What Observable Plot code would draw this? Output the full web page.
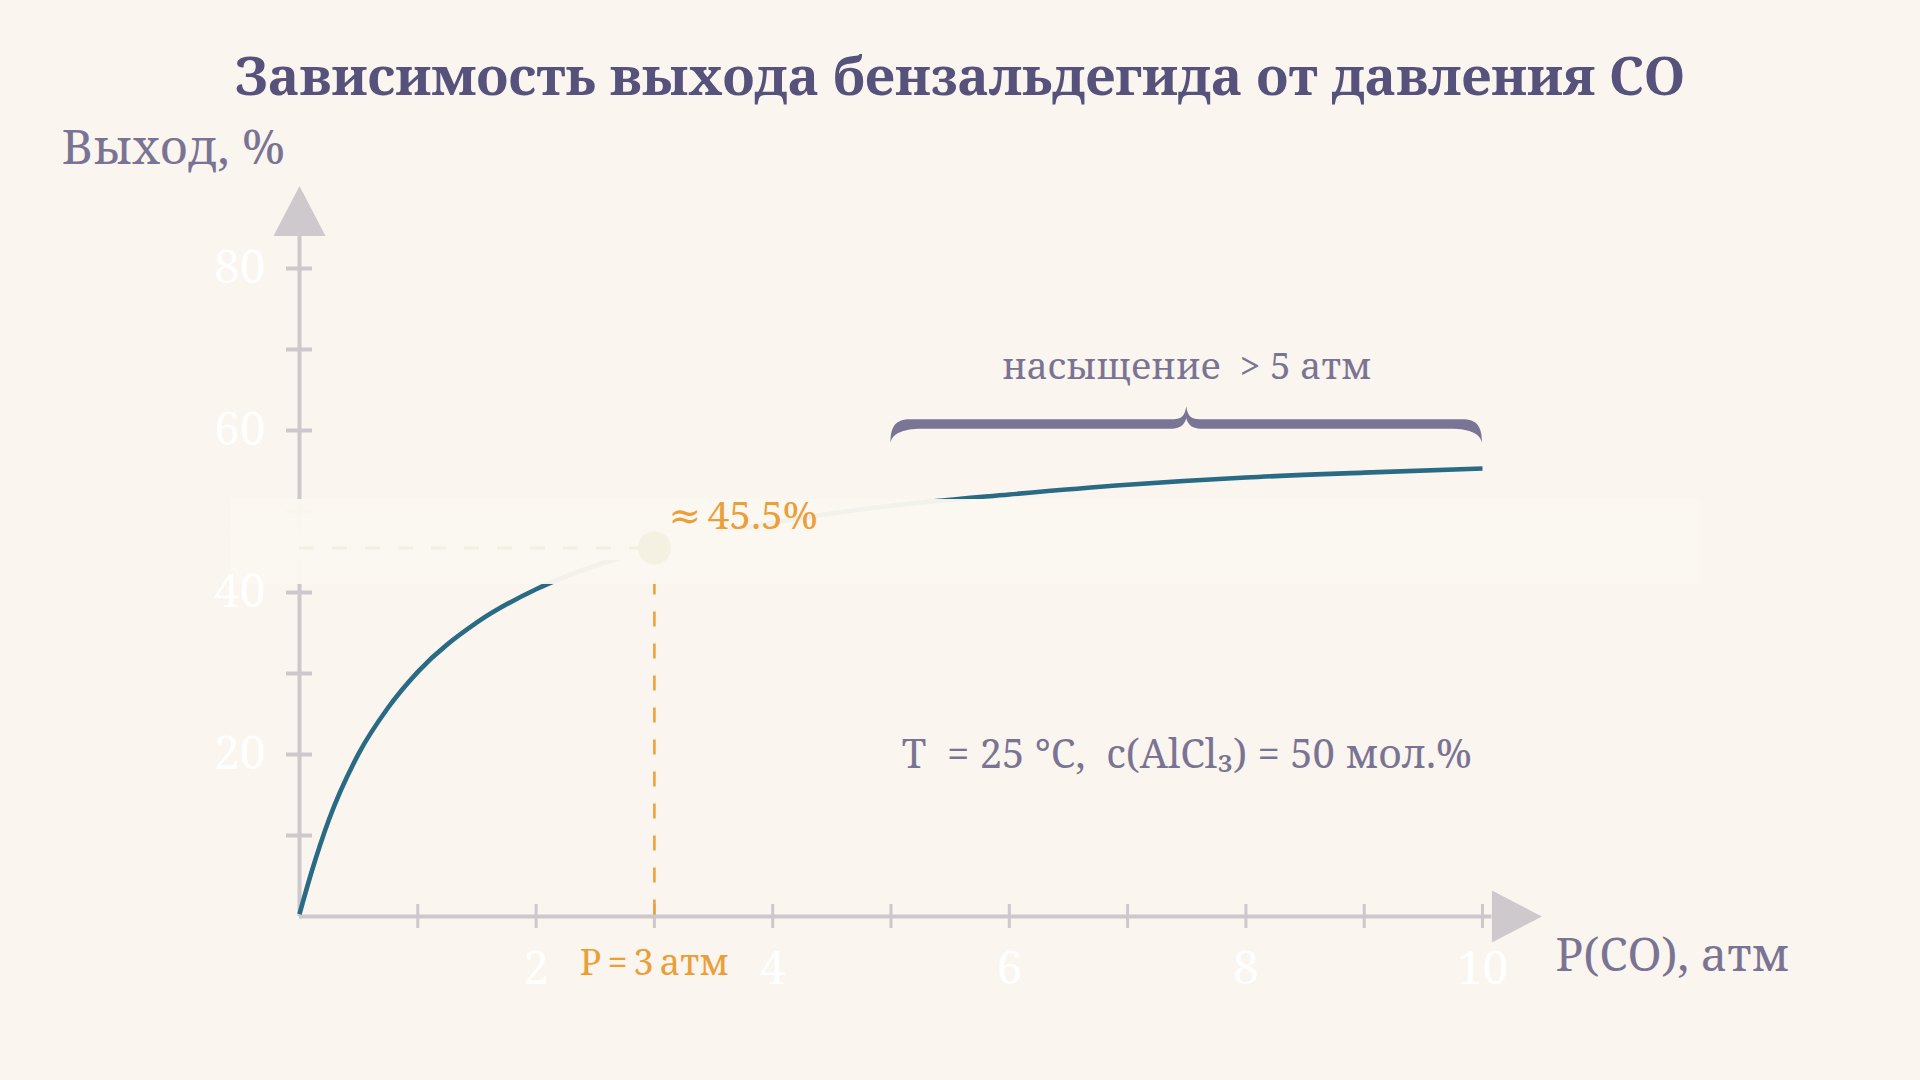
<!DOCTYPE html>
<html>
<head>
<meta charset="utf-8">
<script src="https://cdn.jsdelivr.net/npm/d3@7"></script>
<script src="https://cdn.jsdelivr.net/npm/@observablehq/plot@0.6"></script>
<style>
  html, body { margin: 0; padding: 0; background: #faf5ee; }
  body { width: 1920px; height: 1080px; overflow: hidden; font-family: "Noto Serif", "DejaVu Serif", serif; }
  #title { position: relative; height: 120px; }
  #title h1 { position: absolute; left: 0; top: 50px; width: 1920px; margin: 0; text-align: center;
    font-size: 53px; line-height: 50px; font-weight: 700; color: #56527b; }
  #chart svg { display: block; }
</style>
</head>
<body>
<div id="title"><h1>Зависимость выхода бензальдегида от давления СО</h1></div>
<div id="chart"></div>
<script>
// ---- data ----
const pressure = [0, 0.1, 0.25, 0.5, 0.75, 1, 1.5, 2, 2.5, 3, 4, 5, 6, 7, 8, 9, 10];
const yieldPct = [0.3, 5.4, 12.0, 20.1, 25.8, 30.2, 36.3, 40.4, 43.3, 45.5, 48.6, 50.7, 52.1, 53.3, 54.2, 54.8, 55.3];
const xTicks = [1, 2, 3, 4, 5, 6, 7, 8, 9, 10];
const xTickLabels = [2, 4, 6, 8, 10];
const yTicks = [10, 20, 30, 40, 50, 60, 70, 80];
const yTickLabels = [20, 40, 60, 80];
const marker = {p: 3, y: 45.5};
const markerLabel = "≈\u200945.5%";
const markerAxisLabel = "P\u2009=\u20093\u2009атм";
const saturationRange = [5, 10];
const saturationLevel = 60.74;
const saturationLabel = "насыщение\u00a0 > 5 атм";
const conditionsLabel = "T\u00a0\u00a0= 25 °C,\u00a0\u00a0c(AlCl₃) = 50 мол.%";
const conditionsAt = {p: 7.5, y: 20};
const xAxisTitle = "P(CO), атм";
const yAxisTitle = "Выход, %";
const xAxisEnd = 10.08, yAxisEnd = 84;
const bandUpper = {x1: -0.58, x2: 11.84, y1: 43.95, y2: 51.48};
const bandLower = {x1: -0.58, x2: 11.84, y1: 40.99, y2: 47.65};

// ---- styles ----
const axisGray = "#ccc8cb";
const arrowGray = "#cdc9cd";
const lineColor = "#296a84";
const orange = "#eb9f38";
const muted = "#7a7494";
const bandFill = "#fbf7f0";
const font = '"Noto Serif", "DejaVu Serif", serif';

const curve = pressure.map((p, i) => ({p, y: yieldPct[i]}));

// arrow head: base on the anchor point, tip pointing up
const arrowHead = {
  draw(context) {
    context.moveTo(0, -50);
    context.lineTo(26, 0);
    context.lineTo(-26, 0);
    context.closePath();
  }
};

function braceMark(index, scales) {
  const X0 = scales.x(saturationRange[0]);
  const X1 = scales.x(saturationRange[1]);
  const XM = scales.x((saturationRange[0] + saturationRange[1]) / 2);
  const Y = scales.y(saturationLevel);
  const yT = Y - 4.8, yB = Y + 4.8, yEnd = Y + 19, yTip = Y - 17.5;
  const d = [
    `M${X0},${yEnd}`,
    `C${X0},${yT + 7} ${X0 + 5},${yT} ${X0 + 20},${yT}`,
    `L${XM - 13},${yT}`,
    `C${XM - 5},${yT} ${XM - 1.5},${yT - 3} ${XM},${yTip}`,
    `C${XM + 1.5},${yT - 3} ${XM + 5},${yT} ${XM + 13},${yT}`,
    `L${X1 - 20},${yT}`,
    `C${X1 - 5},${yT} ${X1},${yT + 7} ${X1},${yEnd}`,
    `C${X1 - 1.5},${yB + 6} ${X1 - 10},${yB} ${X1 - 32},${yB}`,
    `L${XM + 17},${yB}`,
    `C${XM + 7},${yB} ${XM + 2},${yB - 3} ${XM},${yT - 1}`,
    `C${XM - 2},${yB - 3} ${XM - 7},${yB} ${XM - 17},${yB}`,
    `L${X0 + 32},${yB}`,
    `C${X0 + 10},${yB} ${X0 + 1.5},${yB + 6} ${X0},${yEnd}`,
    "Z"
  ].join(" ");
  const path = document.createElementNS("http://www.w3.org/2000/svg", "path");
  path.setAttribute("d", d);
  path.setAttribute("fill", "#7b7595");
  return path;
}

const plot = Plot.plot({
  width: 1920,
  height: 960,
  marginLeft: 299,
  marginRight: 438,
  marginTop: 148,
  marginBottom: 164,
  x: {domain: [0, 10], axis: null},
  y: {domain: [0, 80], axis: null},
  style: {background: "transparent", fontFamily: font, overflow: "visible"},
  marks: [
    // axes
    Plot.ruleY([0], {x1: 0, x2: xAxisEnd, stroke: axisGray, strokeWidth: 4}),
    Plot.ruleX([0], {y1: 0, y2: yAxisEnd, stroke: axisGray, strokeWidth: 4}),
    Plot.ruleX(xTicks, {x: d => d, y1: 0, y2: 0, insetTop: -12, insetBottom: -12, stroke: axisGray, strokeWidth: 3}),
    Plot.ruleY(yTicks, {y: d => d, x1: 0, x2: 0, insetLeft: -13, insetRight: -13, stroke: axisGray, strokeWidth: 4}),
    Plot.dot([{p: 0, y: yAxisEnd}], {x: "p", y: "y", symbol: arrowHead, fill: arrowGray}),
    Plot.dot([{p: xAxisEnd, y: 0}], {x: "p", y: "y", symbol: arrowHead, rotate: 90, fill: arrowGray}),
    // curve
    Plot.line(curve, {x: "p", y: "y", stroke: lineColor, strokeWidth: 4.6, curve: "monotone-x", strokeLinecap: "butt"}),
    // vertical marker line
    Plot.ruleX([marker], {x: "p", y1: "y", y2: 0, stroke: orange, strokeWidth: 2.5, strokeDasharray: "15,17"}),
    // soft highlight band (two blurred layers: gentle top edge, crisper bottom edge)
    Plot.rect([bandUpper], {x1: "x1", x2: "x2", y1: "y1", y2: "y2", fill: bandFill, fillOpacity: 0.96, ariaLabel: "band-upper"}),
    Plot.rect([bandLower], {x1: "x1", x2: "x2", y1: "y1", y2: "y2", fill: bandFill, fillOpacity: 0.96, ariaLabel: "band-lower"}),
    // pale guide and point
    Plot.ruleY([marker], {y: "y", x1: 0, x2: "p", stroke: "#f2f0e0", strokeWidth: 3, strokeDasharray: "15,18"}),
    Plot.dot([marker], {x: "p", y: "y", r: 16.5, fill: "#f4f1e2"}),
    // brace
    braceMark,
    // texts
    Plot.text(xTickLabels, {x: d => d, y: 0, text: d => String(d), dy: 67, lineAnchor: "bottom", fill: "#ffffff", fontSize: 46}),
    Plot.text(yTickLabels, {x: 0, y: d => d, text: d => String(d), dx: -34, textAnchor: "end", lineAnchor: "middle", fill: "#ffffff", fontSize: 46}),
    Plot.text([marker], {x: "p", y: "y", text: () => markerLabel, dx: 14, dy: -18.5, textAnchor: "start", lineAnchor: "bottom", fill: orange, fontSize: 39}),
    Plot.text([marker], {x: "p", y: 0, text: () => markerAxisLabel, dy: 58, lineAnchor: "bottom", fill: orange, fontSize: 36}),
    Plot.text([xAxisTitle], {x: 10, y: 0, text: d => d, dx: 73, dy: 54, textAnchor: "start", lineAnchor: "bottom", fill: muted, fontSize: 46}),
    Plot.text([yAxisTitle], {frameAnchor: "top-left", text: d => d, dx: -238, dy: -105, textAnchor: "start", lineAnchor: "bottom", fill: muted, fontSize: 48}),
    Plot.text([saturationLabel], {x: 7.5, y: saturationLevel, text: d => d, dy: -45.5, lineAnchor: "bottom", fill: muted, fontSize: 37}),
    Plot.text([conditionsLabel], {x: conditionsAt.p, y: conditionsAt.y, text: d => d, dy: 13, lineAnchor: "bottom", fill: muted, fontSize: 40})
  ]
});

// soft edges for the highlight band
const root = d3.select(plot);
const defs = root.insert("defs", ":first-child");
[["blurUpper", 6], ["blurLower", 3]].forEach(([id, sd]) => {
  defs.append("filter").attr("id", id).attr("x", "-10%").attr("y", "-80%").attr("width", "120%").attr("height", "260%")
    .append("feGaussianBlur").attr("stdDeviation", sd);
});
root.selectAll('g[aria-label="band-upper"]').attr("filter", "url(#blurUpper)");
root.selectAll('g[aria-label="band-lower"]').attr("filter", "url(#blurLower)");

document.getElementById("chart").appendChild(plot);
</script>
</body>
</html>
